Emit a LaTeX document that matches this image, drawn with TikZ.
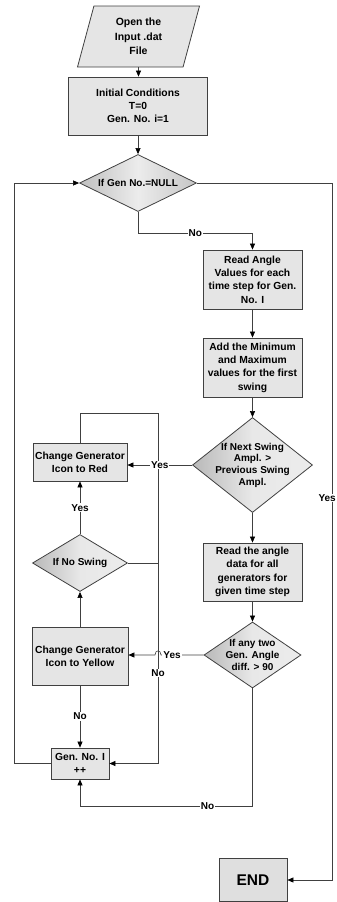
\documentclass[tikz,border=0pt]{standalone}
\usepackage{fontspec}
\setmainfont{Liberation Sans}
\usetikzlibrary{shapes.geometric,arrows.meta}
\begin{document}
\begin{tikzpicture}[x=1pt,y=-1pt,
  box/.style={draw=black!75, line width=0.8pt, fill=gray!20, align=center, inner sep=1pt,
    font=\bfseries\fontsize{10.3}{13.3}\selectfont},
  dia/.style={diamond, draw=black!75, line width=0.8pt, inner sep=0pt, aspect=2,
    left color=gray!55, right color=gray!15, middle color=gray!18},
  dtxt/.style={align=center, inner sep=0pt, font=\bfseries\fontsize{10}{11.7}\selectfont},
  conn/.style={draw=gray!50!black, line width=0.6pt},
  arr/.style={conn, -{Triangle[length=6pt,width=5pt,color=black]}},
  lbl/.style={fill=white, inner sep=1pt, font=\bfseries\fontsize{10}{12}\selectfont}
]
\useasboundingbox (0,0) rectangle (337,902);

% nodes
\node[box, shape=trapezium, trapezium left angle=67, trapezium right angle=113,
  trapezium stretches body, minimum width=122, minimum height=61,
  font=\bfseries\fontsize{10.5}{14.5}\selectfont] (open) at (138.5,36.5) {Open the\\Input .dat\\File};
\node[box, minimum width=139, minimum height=58] (init) at (138,106) {Initial Conditions\\T=0\\Gen. No. i=1};
\node[dia, minimum width=117, minimum height=57, left color=gray!50, right color=gray!45, middle color=gray!15] (d1) at (138,183) {};
\node[dtxt] (d1t) at (d1) {If Gen No.=NULL};
\node[box, minimum width=99, minimum height=59] (read1) at (252.5,279.5) {Read Angle\\Values for each\\time step for Gen.\\No. I};
\node[box, minimum width=99, minimum height=59] (add) at (252.5,367.5) {Add the Minimum\\and Maximum\\values for the first\\swing};
\node[dia, minimum width=120, minimum height=95] (d2) at (252.5,465) {};
\node[dtxt] (d2t) at (d2) {If Next Swing\\Ampl. >\\Previous Swing\\Ampl.};
\node[box, minimum width=94, minimum height=38] (red) at (80,462) {Change Generator\\Icon to Red};
\node[dia, minimum width=95, minimum height=57] (nsw) at (80,563) {};
\node[dtxt] (nswt) at (nsw) {If No Swing};
\node[box, minimum width=96, minimum height=58] (yel) at (80,656) {Change Generator\\Icon to Yellow};
\node[box, minimum width=99, minimum height=58] (read2) at (252.5,572) {Read the angle\\data for all\\generators for\\given time step};
\node[dia, minimum width=97, minimum height=66] (d4) at (252.5,655) {};
\node[dtxt] (d4t) at (d4) {If any two\\Gen. Angle\\diff. > 90};
\node[box, minimum width=58, minimum height=31] (gen) at (80,763.5) {Gen. No. I\\++};
\node[box, minimum width=68, minimum height=43, fill=gray!25,
  font=\bfseries\fontsize{15.5}{18}\selectfont] (end) at (253,880) {END};

\coordinate (lt) at (158,413);
\coordinate (ll) at (14,183);
\coordinate (rr) at (332,183);

% connectors
\draw[arr] (open.south) -- (open.south |- init.north);
\draw[arr] (init.south) -- (d1.north);
\draw[arr] (d1.south) -- ++(0,21) -| node[lbl, pos=0.25] (no1) {No} (read1.north);
\draw[arr] (read1.south) -- (add.north);
\draw[arr] (add.south) -- (d2.north);
\draw[arr] (read2.south) -- (d4.north);
\draw[arr] (d2.south) -- (read2.north);
\draw[arr] (red.north) |- (lt) |- (gen.east);
\draw[conn] (nsw.east) -- (nsw.east -| lt);
\node[lbl] (no2) at (158,673) {No};
\draw[arr] (d2.west) -- node[lbl] (yes1) {Yes} (d2.west -| red.east);
\draw[arr] (d4.west) -- (161,655) .. controls (161,649.5) and (155,649.5) .. (155,655) -- (d4.west -| yel.east);
\node[lbl] (yes2) at (172,655) {Yes};
\draw[arr] (d4.south) -- ++(0,117.5) -| node[lbl, pos=0.13] (no3) {No} (gen.south);
\draw[arr] (yel.south) -- node[lbl] (no4) {No} (gen.north);
\draw[arr] (yel.north) -- (nsw.south);
\draw[arr] (nsw.north) -- node[lbl] (yes3) {Yes} (red.south);
\draw[arr] (gen.west) -| (ll) -- (d1.west);
\draw[arr] (d1.east) -- (rr) |- (end.east);
\node[lbl, anchor=east, inner sep=0.5pt] (yes4) at (336.5,498) {Yes};
\end{tikzpicture}
\end{document}
